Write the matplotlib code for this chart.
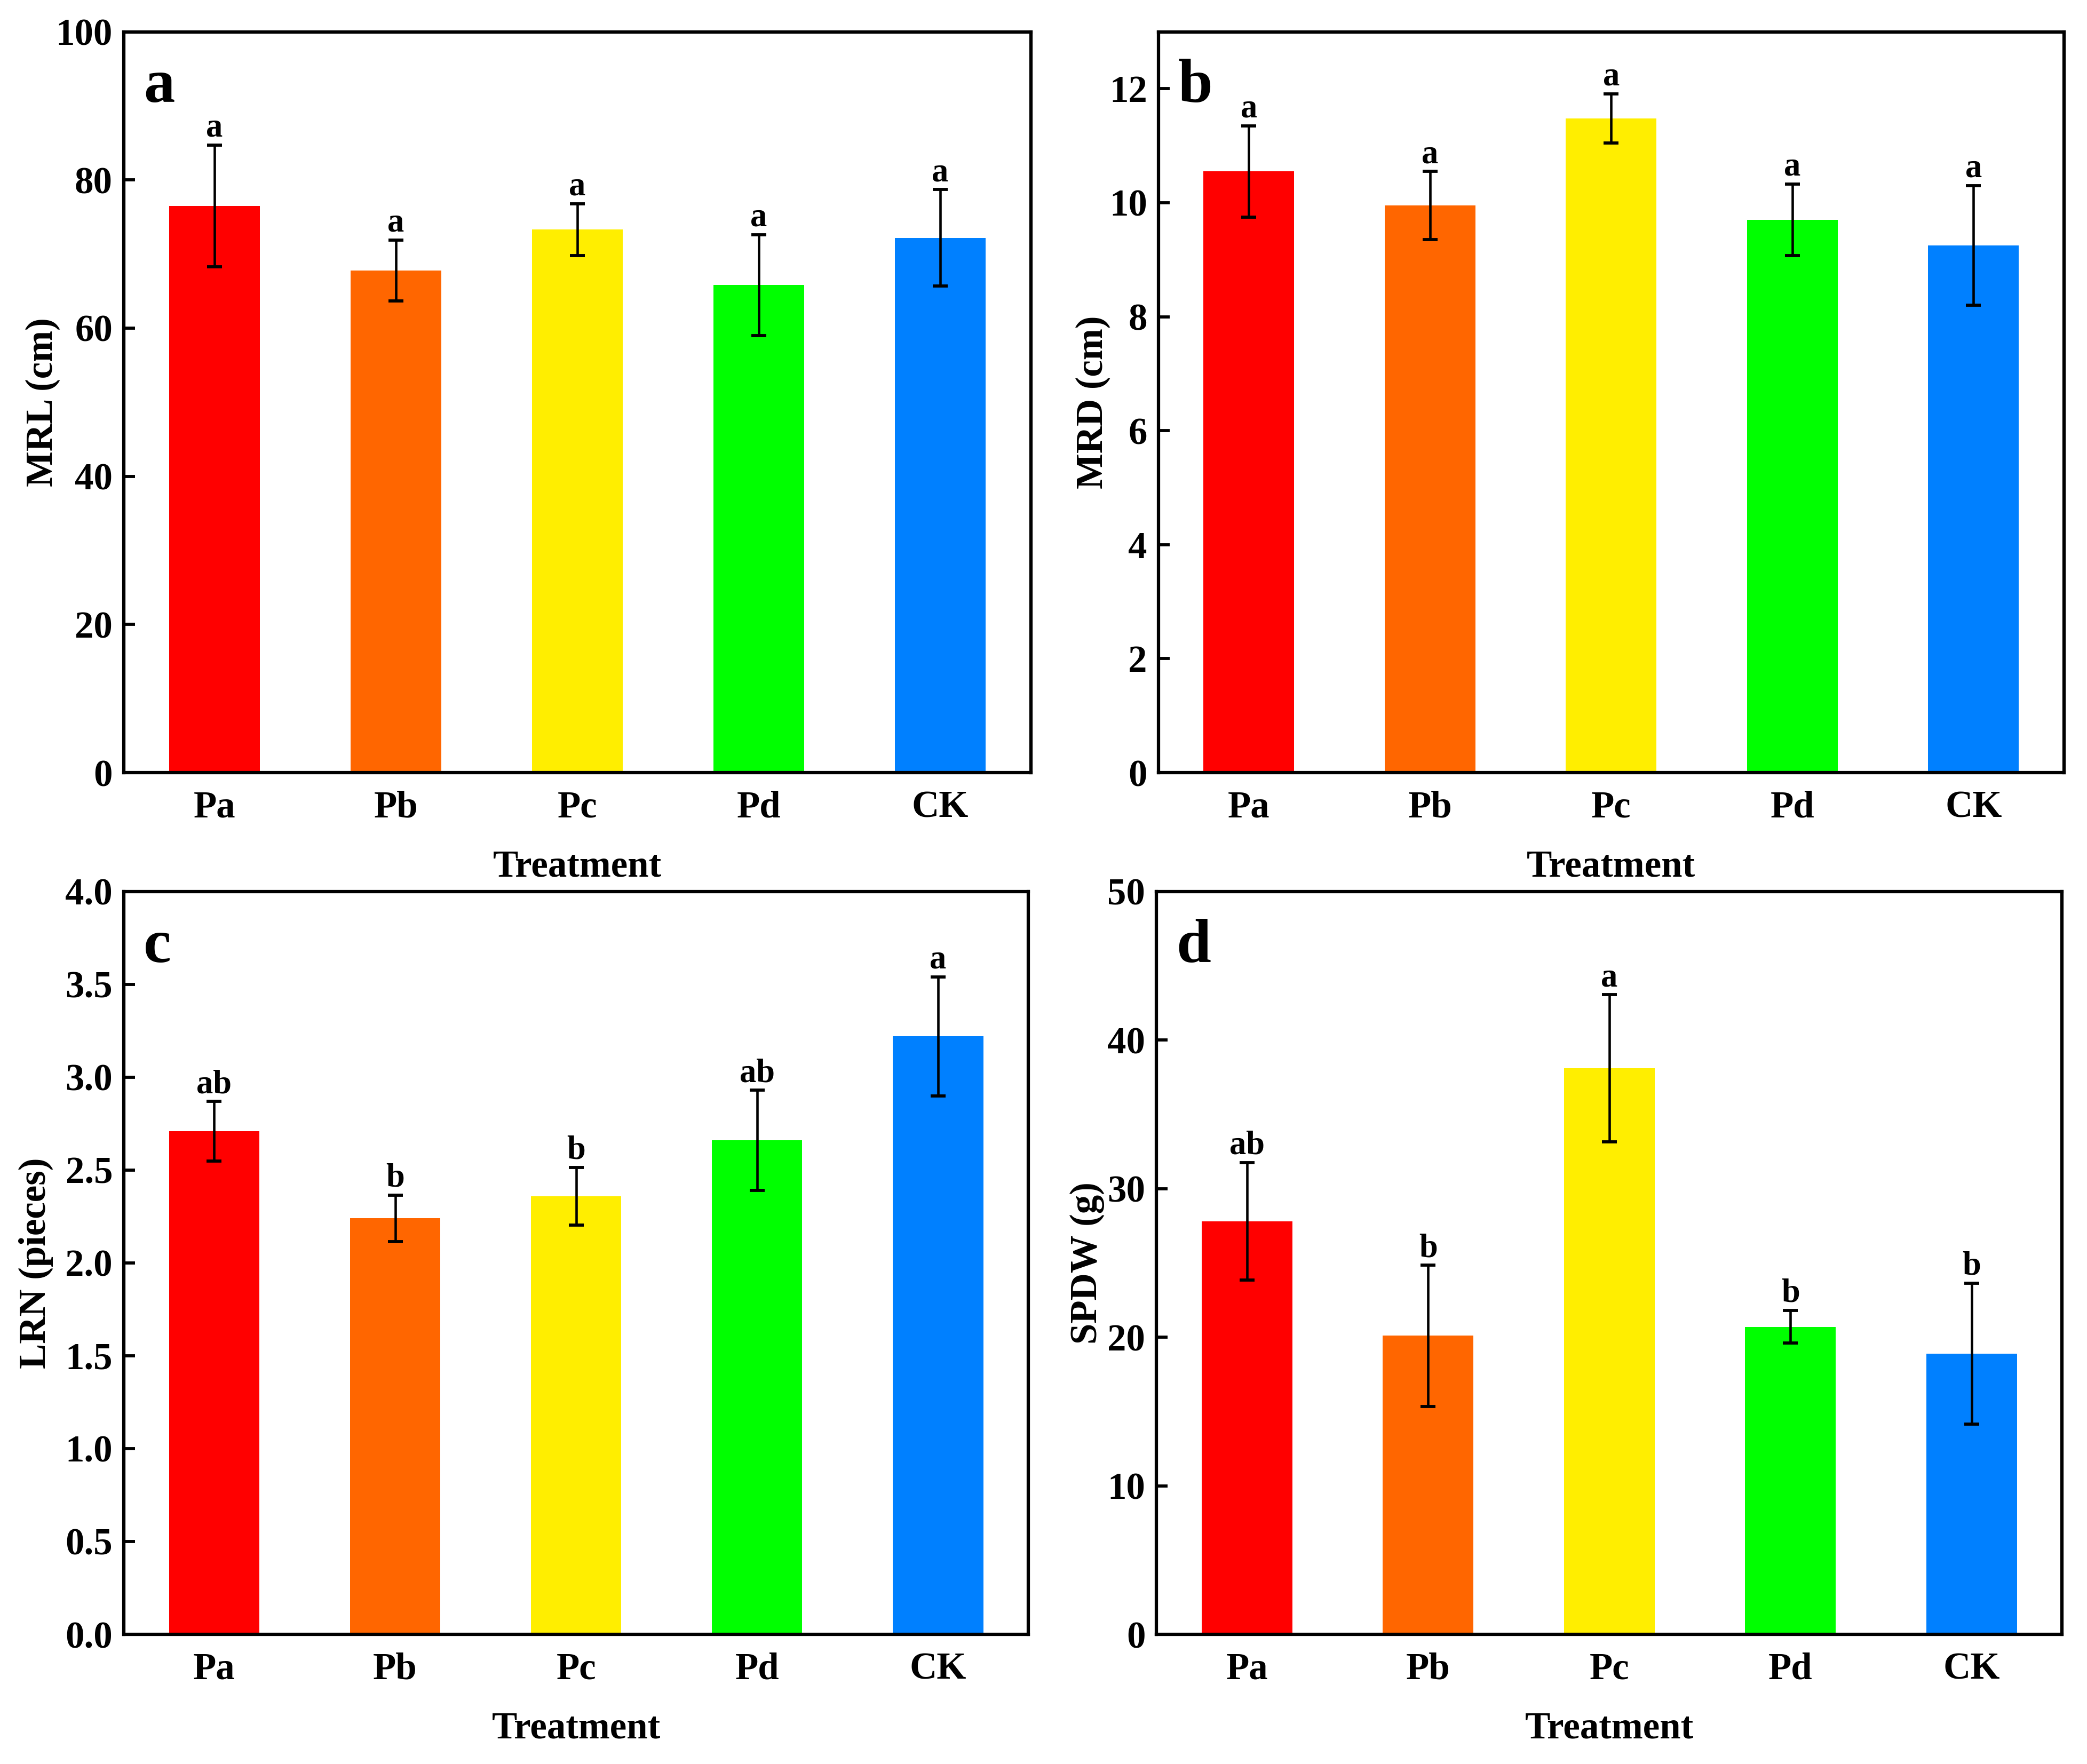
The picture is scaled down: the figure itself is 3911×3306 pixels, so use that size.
import matplotlib.pyplot as plt
import numpy as np

plt.rcParams['font.family'] = ['Liberation Serif', 'DejaVu Serif']
plt.rcParams['font.weight'] = 'bold'

treatments = ['Pa', 'Pb', 'Pc', 'Pd', 'CK']
bar_colors = ['#FF0000', '#FF6600', '#FFEE00', '#00FF00', '#0080FF']

# panel a: main root length
mrl_mean = [76.5, 67.8, 73.3, 65.8, 72.2]
mrl_err = [8.2, 4.1, 3.5, 6.8, 6.5]
mrl_sig = ['a', 'a', 'a', 'a', 'a']

# panel b: main root diameter
mrd_mean = [10.55, 9.95, 11.48, 9.70, 9.25]
mrd_err = [0.80, 0.60, 0.43, 0.63, 1.05]
mrd_sig = ['a', 'a', 'a', 'a', 'a']

# panel c: lateral root number
lrn_mean = [2.71, 2.24, 2.36, 2.66, 3.22]
lrn_err = [0.16, 0.125, 0.155, 0.27, 0.32]
lrn_sig = ['ab', 'b', 'b', 'ab', 'a']

# panel d: dry weight
spdw_mean = [27.8, 20.1, 38.1, 20.7, 18.9]
spdw_err = [3.95, 4.75, 4.95, 1.1, 4.75]
spdw_sig = ['ab', 'b', 'a', 'b', 'b']

panels = [
    ('a', 'MRL (cm)', mrl_mean, mrl_err, mrl_sig, (0, 100), np.arange(0, 101, 20), '%d'),
    ('b', 'MRD (cm)', mrd_mean, mrd_err, mrd_sig, (0, 13), np.arange(0, 13, 2), '%d'),
    ('c', 'LRN (pieces)', lrn_mean, lrn_err, lrn_sig, (0, 4), np.arange(0, 4.01, 0.5), '%.1f'),
    ('d', 'SPDW (g)', spdw_mean, spdw_err, spdw_sig, (0, 50), np.arange(0, 51, 10), '%d'),
]

fig = plt.figure(figsize=(3911 / 300, 3306 / 300), dpi=300)
boxes = [
    [0.0593, 0.562, 0.4347, 0.420],
    [0.5550, 0.562, 0.4340, 0.420],
    [0.0593, 0.0735, 0.4335, 0.4211],
    [0.5541, 0.0735, 0.4340, 0.4211],
]
# x position (axes fraction) of the y-label anchor in each panel
ylabel_x = [-0.070, -0.053, -0.078, -0.057]

x = np.arange(len(treatments))
for box, lx, (tag, ylabel, mean, err, sig, ylim, yticks, fmt) in zip(boxes, ylabel_x, panels):
    ax = fig.add_axes(box)
    ax.bar(x, mean, width=0.5, color=bar_colors, zorder=2)
    ax.errorbar(x, mean, yerr=err, fmt='none', ecolor='black', elinewidth=1.1,
                capsize=3.4, capthick=1.4, zorder=3)
    for xi, m, e, s in zip(x, mean, err, sig):
        ax.annotate(s, (xi, m + e), xytext=(0, 0.5), textcoords='offset points',
                    ha='center', va='bottom', fontsize=15, fontweight='bold')
    ax.set_xlim(-0.5, 4.5)
    ax.set_ylim(*ylim)
    ax.set_yticks(yticks)
    ax.set_yticklabels([fmt % v for v in yticks])
    ax.set_xticks(x)
    ax.set_xticklabels(treatments)
    ax.tick_params(axis='y', direction='in', length=5, width=1.4, labelsize=17, pad=5)
    ax.tick_params(axis='x', length=0, labelsize=17, pad=8)
    for sp in ax.spines.values():
        sp.set_linewidth(1.5)
    ax.set_ylabel(ylabel, fontsize=17, fontweight='bold')
    ax.yaxis.set_label_coords(lx, 0.5)
    ax.set_xlabel('Treatment', fontsize=17, fontweight='bold', labelpad=11)
    ax.text(0.022, 0.905, tag, transform=ax.transAxes, ha='left', va='baseline',
            fontsize=28, fontweight='bold')

fig.savefig('out.png', dpi=300)
